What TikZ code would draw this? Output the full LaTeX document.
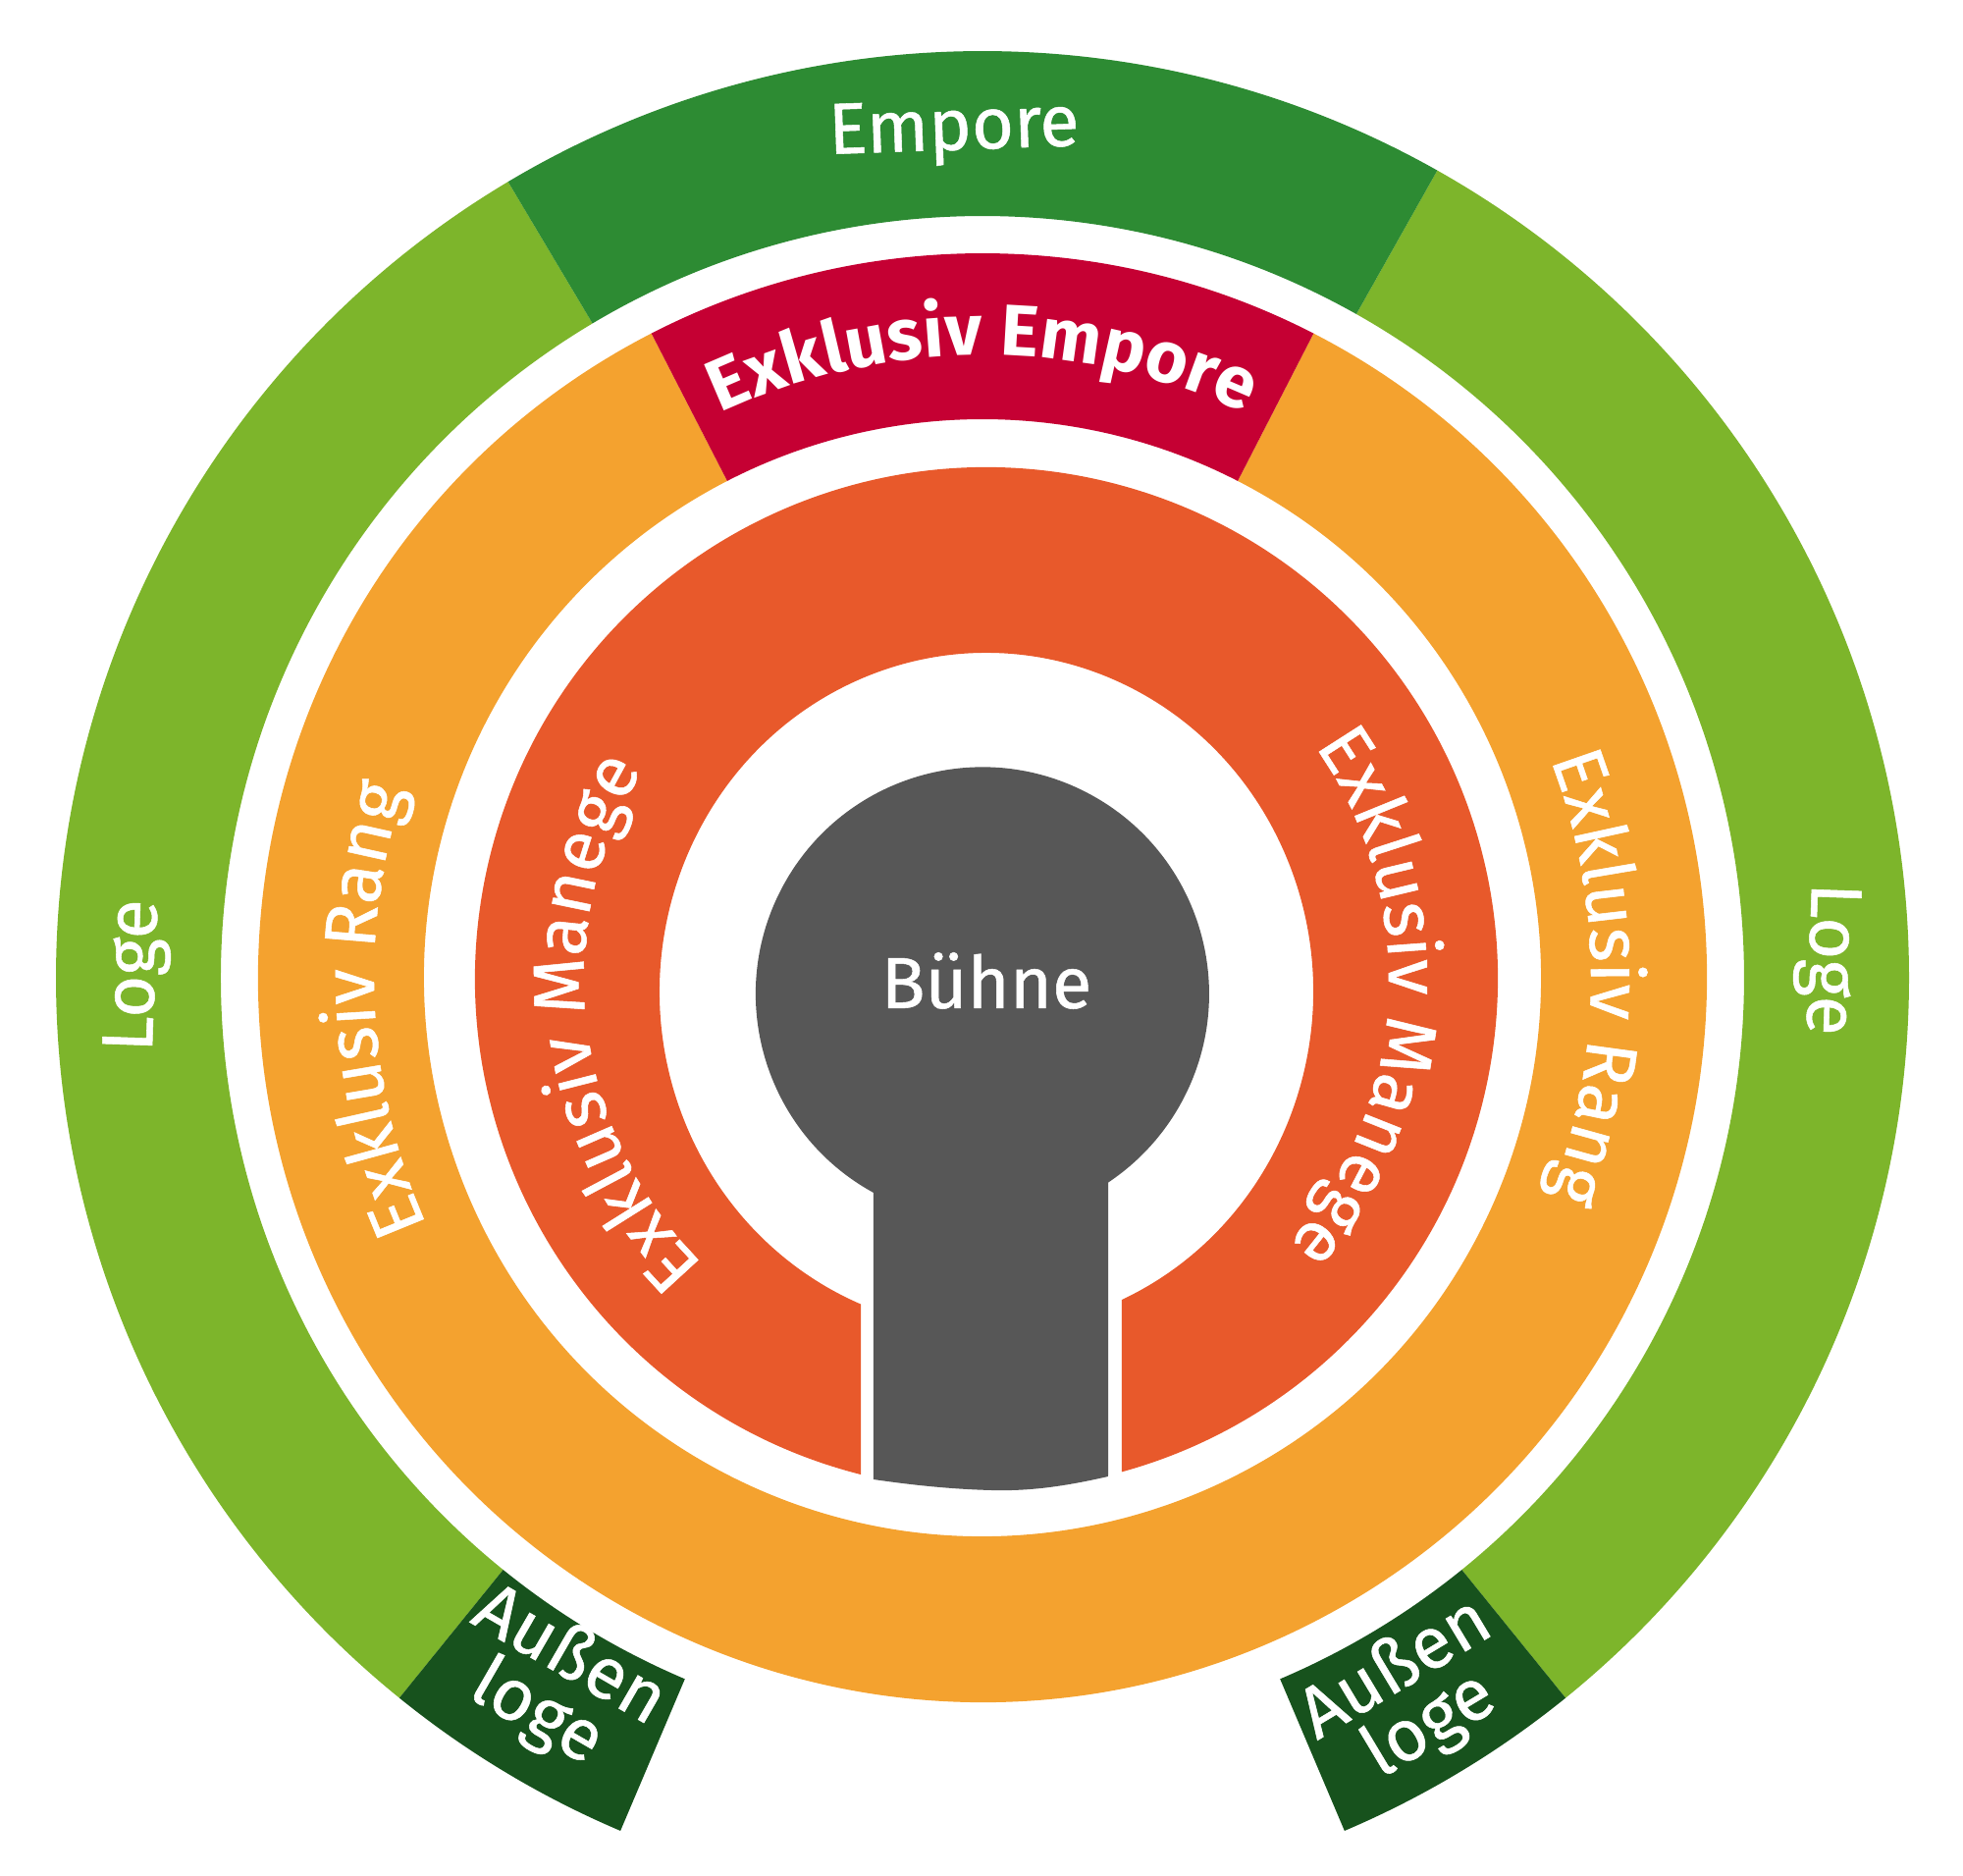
\documentclass[tikz,border=0pt]{standalone}
\usepackage{fontspec}
\setmainfont{Fira Sans}[UprightFeatures={FakeBold=0.7}]
\usepackage{tikz}
\usetikzlibrary{decorations.text}
\usepackage{xcolor}

\definecolor{logegreen}{RGB}{125,181,43}
\definecolor{emporegreen}{RGB}{45,139,51}
\definecolor{aussengreen}{RGB}{23,82,29}
\definecolor{rangorange}{RGB}{244,162,47}
\definecolor{manegered}{RGB}{232,89,43}
\definecolor{exklusivred}{RGB}{197,0,51}
\definecolor{buehnegray}{RGB}{87,87,87}

\begin{document}
\begin{tikzpicture}[every node/.style={text=white, font=\fontsize{21}{19}\selectfont},
    arclabel/.style={decorate, decoration={text along path, text align=center, text color=white, text={#1}}}]

    \useasboundingbox (-10.01,-9.15) rectangle (9.99,9.96);

    % Outer ring: Loge left and right
    \fill[logegreen] (120.8:9.44) arc[start angle=120.8, end angle=231, radius=9.44]
        -- (231:7.76) arc[start angle=231, end angle=120.8, radius=7.76] -- cycle;
    \fill[logegreen] (-51:9.44) arc[start angle=-51, end angle=60.6, radius=9.44]
        -- (60.6:7.76) arc[start angle=60.6, end angle=-51, radius=7.76] -- cycle;

    % Outer ring: Empore on top
    \fill[emporegreen] (60.6:9.44) arc[start angle=60.6, end angle=120.8, radius=9.44]
        -- (120.8:7.76) arc[start angle=120.8, end angle=60.6, radius=7.76] -- cycle;

    % Outer ring: Aussenloge left and right
    \fill[aussengreen] (231:9.44) arc[start angle=231, end angle=247, radius=9.44]
        -- (247:7.76) arc[start angle=247, end angle=231, radius=7.76] -- cycle;
    \fill[aussengreen] (293:9.44) arc[start angle=293, end angle=309, radius=9.44]
        -- (309:7.76) arc[start angle=309, end angle=293, radius=7.76] -- cycle;

    % Middle ring: Exklusiv Rang (round the bottom) and Exklusiv Empore (top)
    \fill[rangorange] (117.2:7.38) arc[start angle=117.2, end angle=422.8, radius=7.38]
        -- (62.8:5.69) arc[start angle=422.8, end angle=117.2, radius=5.69] -- cycle;
    \fill[exklusivred] (62.8:7.38) arc[start angle=62.8, end angle=117.2, radius=7.38]
        -- (117.2:5.69) arc[start angle=117.2, end angle=62.8, radius=5.69] -- cycle;

    % Inner ring: Exklusiv Manege, open at the bottom
    \begin{scope}[shift={(0.04,-0.01)}]
        \fill[manegered] (255.78:5.21) arc[start angle=255.78, end angle=-74.64, radius=5.21]
            -- (1.38,-3.27)
            arc[start angle=-65.52, end angle=247.39, x radius=3.33, y radius=3.45]
            -- cycle;
    \end{scope}

    % Buehne: circle with stem
    \fill[buehnegray] (-1.11,-5.11) -- (-1.11,-2.19)
        arc[start angle=241.3, end angle=-56.3, radius=2.31]
        -- (1.28,-5.08)
        .. controls (0.8,-5.19) and (0.45,-5.23) .. (0.09,-5.22)
        .. controls (-0.3,-5.21) and (-0.7,-5.17) .. (-1.11,-5.11) -- cycle;

    % Straight labels
    \node[rotate=2] (empore) at (-0.29,8.61) {Empore};
    \node (buehne) at (0.04,-0.03) {Bühne};
    \node[rotate=88] (logeL) at (-8.61,0.02) {Loge};
    \node[rotate=-92] (logeR) at (8.60,0.19) {Loge};
    \node[rotate=-30, align=center] (aussenL) at (-4.38,-7.21) {Außen\\loge};
    \node[rotate=31, align=center] (aussenR) at (4.39,-7.34) {Außen\\loge};

    % Curved labels
    \path[arclabel={|\fontsize{21}{21}\selectfont\bfseries|Exklusiv Empore}]
        (117:6.34) arc[start angle=117, end angle=63, radius=6.34];
    \path[arclabel={|\fontsize{21}{21}\selectfont|Exklusiv Rang}]
        (233:6.2) arc[start angle=233, end angle=133, radius=6.2];
    \path[arclabel={|\fontsize{21}{21}\selectfont|Exklusiv Rang}]
        (50:6.2) arc[start angle=50, end angle=-50, radius=6.2];
    \begin{scope}[shift={(0.04,-0.01)}]
        \path[arclabel={|\fontsize{21}{21}\selectfont|Exklusiv Manege}]
            (241:4.1) arc[start angle=241, end angle=133, radius=4.1];
        \path[arclabel={|\fontsize{21}{21}\selectfont|Exklusiv Manege}]
            (40:4.1) arc[start angle=40, end angle=-46, radius=4.1];
    \end{scope}

\end{tikzpicture}
\end{document}
